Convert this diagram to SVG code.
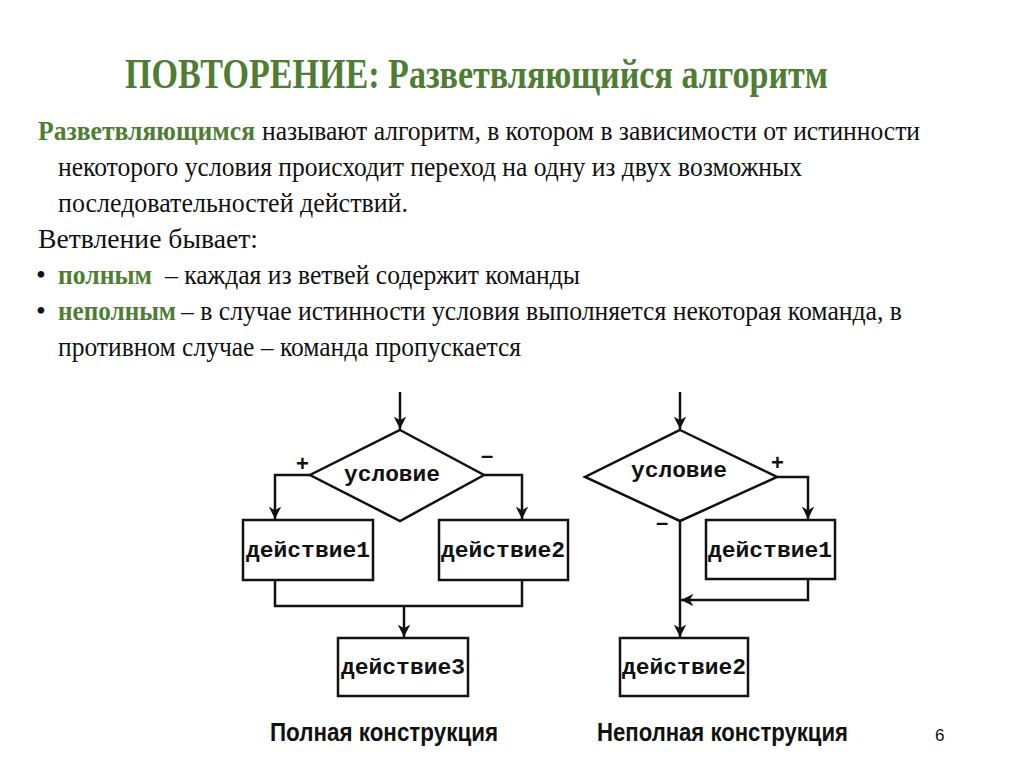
<svg xmlns="http://www.w3.org/2000/svg" width="1024" height="768" viewBox="0 0 1024 768">
<defs>
<style>
.t{font-family:"Liberation Serif","Times New Roman",serif;font-size:28px;fill:#111}
.g{font-family:"Liberation Serif","Times New Roman",serif;font-size:28px;font-weight:bold;fill:#4E7D33}
.title{font-family:"Liberation Serif","Times New Roman",serif;font-size:43px;font-weight:bold;fill:#4E7D33}
.m{font-family:"Liberation Mono","Courier New",monospace;font-size:22px;font-weight:bold;fill:#111}
.cap{font-family:"Liberation Sans",Arial,sans-serif;font-size:25px;font-weight:bold;fill:#111}
.shape{fill:#fff;stroke:#111;stroke-width:2.5}
.line{fill:none;stroke:#111;stroke-width:2.5}
.sign{font-family:"Liberation Sans",Arial,sans-serif;font-size:22px;font-weight:bold;fill:#111}
</style>
<marker id="arr" viewBox="0 0 10 10" refX="10" refY="5" markerWidth="5" markerHeight="5" orient="auto" markerUnits="strokeWidth">
<path d="M0,0 L10,5 L0,10 L3,5 Z" fill="#111"/>
</marker>
</defs>
<rect width="1024" height="768" fill="#fff"/>

<g id="text">
<text class="title" x="125" y="88" textLength="703" lengthAdjust="spacingAndGlyphs">ПОВТОРЕНИЕ: Разветвляющийся алгоритм</text>
<text class="g" x="38" y="140" textLength="217" lengthAdjust="spacingAndGlyphs">Разветвляющимся</text>
<text class="t" x="262" y="140" textLength="658" lengthAdjust="spacingAndGlyphs">называют алгоритм, в котором в зависимости от истинности</text>
<text class="t" x="58" y="176" textLength="744" lengthAdjust="spacingAndGlyphs">некоторого условия происходит переход на одну из двух возможных</text>
<text class="t" x="58" y="212" textLength="350" lengthAdjust="spacingAndGlyphs">последовательностей действий.</text>
<text class="t" x="38" y="248" textLength="220" lengthAdjust="spacingAndGlyphs">Ветвление бывает:</text>
<text class="t" x="36" y="284">•</text>
<text class="g" x="58" y="284" textLength="94" lengthAdjust="spacingAndGlyphs">полным</text>
<text class="t" x="165" y="284" textLength="415" lengthAdjust="spacingAndGlyphs">– каждая из ветвей содержит команды</text>
<text class="t" x="36" y="320">•</text>
<text class="g" x="58" y="320" textLength="118" lengthAdjust="spacingAndGlyphs">неполным</text>
<text class="t" x="181" y="320" textLength="721" lengthAdjust="spacingAndGlyphs">– в случае истинности условия выполняется некоторая команда, в</text>
<text class="t" x="58" y="356" textLength="463" lengthAdjust="spacingAndGlyphs">противном случае – команда пропускается</text>
</g>

<g id="connectors">
<path class="line" d="M400,392 L400,429" marker-end="url(#arr)"/>
<path class="line" d="M310,475 L275,475 L275,519" marker-end="url(#arr)"/>
<path class="line" d="M484,475 L522,475 L522,519" marker-end="url(#arr)"/>
<path class="line" d="M275,580 L275,606 L522,606 L522,580"/>
<path class="line" d="M404,606 L404,637" marker-end="url(#arr)"/>
<path class="line" d="M680,392 L680,429" marker-end="url(#arr)"/>
<path class="line" d="M777,477 L808,477 L808,519" marker-end="url(#arr)"/>
<path class="line" d="M808,579 L808,600 L681,600" marker-end="url(#arr)"/>
<path class="line" d="M680,521 L680,637" marker-end="url(#arr)"/>
</g>

<g id="cond1">
<polygon class="shape" points="400,430 484,475 400,521 310,475"/>
<text class="m" x="392" y="481" text-anchor="middle" textLength="96" lengthAdjust="spacingAndGlyphs">условие</text>
</g>
<text class="sign" x="296" y="471">+</text>
<text class="sign" x="481" y="463">–</text>
<g id="act1">
<rect class="shape" x="243" y="520" width="130" height="60"/>
<text class="m" x="308" y="557" text-anchor="middle" textLength="124" lengthAdjust="spacingAndGlyphs">действие1</text>
</g>
<g id="act2">
<rect class="shape" x="439" y="520" width="129" height="60"/>
<text class="m" x="503" y="557" text-anchor="middle" textLength="124" lengthAdjust="spacingAndGlyphs">действие2</text>
</g>
<g id="act3">
<rect class="shape" x="338" y="638" width="130" height="58"/>
<text class="m" x="403" y="674" text-anchor="middle" textLength="124" lengthAdjust="spacingAndGlyphs">действие3</text>
</g>

<g id="cond2">
<polygon class="shape" points="680,430 777,477 680,521 585,477"/>
<text class="m" x="679" y="477" text-anchor="middle" textLength="96" lengthAdjust="spacingAndGlyphs">условие</text>
</g>
<text class="sign" x="771" y="470">+</text>
<text class="sign" x="656" y="530">–</text>
<g id="act4">
<rect class="shape" x="706" y="520" width="129" height="59"/>
<text class="m" x="770" y="557" text-anchor="middle" textLength="124" lengthAdjust="spacingAndGlyphs">действие1</text>
</g>
<g id="act5">
<rect class="shape" x="620" y="638" width="128" height="58"/>
<text class="m" x="684" y="674" text-anchor="middle" textLength="124" lengthAdjust="spacingAndGlyphs">действие2</text>
</g>

<g id="captions">
<text class="cap" x="270" y="741" textLength="228" lengthAdjust="spacingAndGlyphs">Полная конструкция</text>
<text class="cap" x="597" y="741" textLength="251" lengthAdjust="spacingAndGlyphs">Неполная конструкция</text>
<text x="935" y="741" style="font-family:'Liberation Sans',Arial,sans-serif;font-size:17px;fill:#111">6</text>
</g>
</svg>
